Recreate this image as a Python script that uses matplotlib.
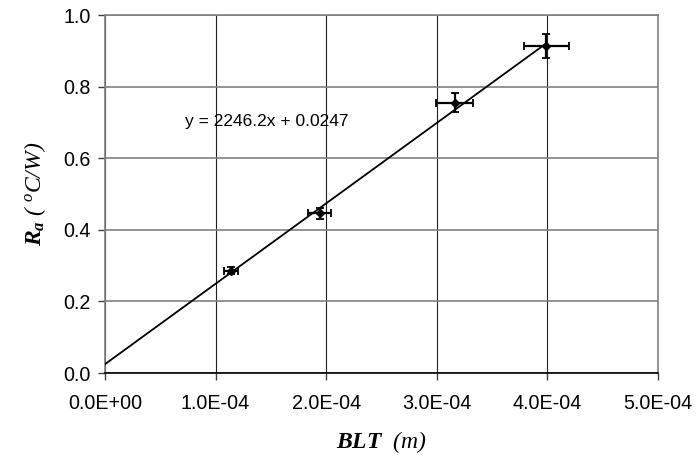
import matplotlib
matplotlib.use("Agg")
import matplotlib.pyplot as plt
import numpy as np
from matplotlib.ticker import FuncFormatter

# data
blt = [1.14e-4, 1.94e-4, 3.16e-4, 3.99e-4]
ra = [0.286, 0.446, 0.755, 0.913]
blt_err = [0.63e-5, 1.03e-5, 1.63e-5, 2.04e-5]
ra_err = [0.010, 0.015, 0.026, 0.033]

# linear trendline shown on the chart
slope = 2246.2
intercept = 0.0247

xticks = [0, 1e-4, 2e-4, 3e-4, 4e-4, 5e-4]
yticks = [0.0, 0.2, 0.4, 0.6, 0.8, 1.0]

plt.rcParams['font.family'] = ['Liberation Sans', 'DejaVu Sans']
plt.rcParams['mathtext.fontset'] = 'custom'
plt.rcParams['mathtext.rm'] = 'Liberation Serif:italic'
plt.rcParams['mathtext.it'] = 'Liberation Serif:italic'
plt.rcParams['mathtext.bf'] = 'Liberation Serif:italic:bold'

fig = plt.figure(figsize=(6.97, 4.62), dpi=100)
ax = fig.add_axes([0.1506, 0.1926, 0.7935, 0.7749])

# trendline from 0 to the last point
xl = np.array([0, max(blt)])
ax.plot(xl, slope * xl + intercept, color='black', lw=1.3, zorder=3)

ax.errorbar(blt, ra, xerr=blt_err, yerr=ra_err, fmt='D', color='black',
            ms=4, elinewidth=1.6, capsize=3, capthick=1.3, zorder=4)

ax.text(1.466e-4, 0.702, 'y = 2246.2x + 0.0247', fontsize=12.5, ha='center',
        va='center', family='Liberation Sans')

ax.set_xlim(0, 5e-4)
ax.set_ylim(0, 1.0)
ax.set_xticks(xticks)
ax.set_yticks(yticks)
ax.xaxis.set_major_formatter(FuncFormatter(lambda v, p: '%.1E' % v))
ax.yaxis.set_major_formatter(FuncFormatter(lambda v, p: '%.1f' % v))
ax.tick_params(axis='both', labelsize=14.2, length=5, width=1, color='#404040')
ax.tick_params(axis='x', pad=10)
ax.tick_params(axis='y', pad=5)

ax.yaxis.grid(True, color='#808080', lw=1.2)
ax.xaxis.grid(True, color='#202020', lw=0.8)
ax.set_axisbelow(True)

for s in ['top', 'right', 'left']:
    ax.spines[s].set_color('#808080')
    ax.spines[s].set_linewidth(1.2)
ax.spines['bottom'].set_color('black')
ax.spines['bottom'].set_linewidth(1.2)

ax.set_xlabel(r'$\mathbf{BLT}\ \ (m)$', fontsize=17, labelpad=12)
ax.set_ylabel(r'$\mathbf{R_a}\ (\ ^{o}C/W)$', fontsize=17, labelpad=11)

fig.savefig('out.png', dpi=100)
